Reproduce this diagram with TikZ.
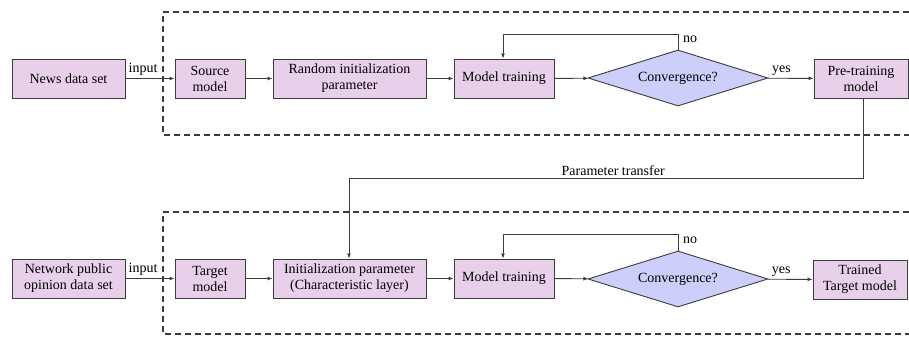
\documentclass[tikz,border=0pt]{standalone}
\usepackage{fontspec}
\setmainfont{Liberation Serif}
\usetikzlibrary{shapes.geometric,arrows.meta}
\definecolor{boxfill}{RGB}{233,208,234}
\definecolor{decfill}{RGB}{205,206,250}
\definecolor{edge}{RGB}{60,60,60}
\begin{document}
\begin{tikzpicture}[x=1pt,y=-1pt,
  font=\fontsize{14}{16}\selectfont,
  stepbox/.style={draw=edge,line width=0.9pt,fill=boxfill,rectangle,inner sep=1pt,
    minimum height=39pt,align=center},
  decision/.style={draw=edge,line width=0.9pt,fill=decfill,diamond,aspect=3.2,inner sep=0pt,
    minimum width=180pt,minimum height=56pt},
  flow/.style={draw=edge,line width=0.9pt,-{Latex[length=5pt,width=4pt]}},
  frame/.style={draw=edge,line width=1.2pt,dash pattern=on 6pt off 4pt}]
\useasboundingbox (0,0) rectangle (909,337);

% dashed stage frames
\draw[frame] (909,12) -- (163,12) -- (163,135) -- (909,135);
\draw[frame] (909,212) -- (163,212) -- (163,334) -- (909,334);

% pre-training stage
\node[stepbox,minimum width=113pt] (news) at (68.5,78.5) {News data set};
\node[stepbox,minimum width=70pt] (src) at (210,78.5) {Source\\model};
\node[stepbox,minimum width=153pt] (rand) at (349.5,78.5) {Random initialization\\parameter};
\node[stepbox,minimum width=100pt] (train1) at (504,78.5) {Model training};
\node[decision] (conv1) at (678,78) {Convergence?};
\node[stepbox,minimum width=94pt] (pre) at (861,78.5) {Pre-training\\model};

% fine-tuning stage
\node[stepbox,minimum width=113pt] (news2) at (68.5,278.5) {Network public\\opinion data set};
\node[stepbox,minimum width=70pt] (tgt) at (210,278.5) {Target\\model};
\node[stepbox,minimum width=153pt] (init) at (349.5,278.5) {Initialization parameter\\(Characteristic layer)};
\node[stepbox,minimum width=100pt] (train2) at (504,278.5) {Model training};
\node[decision] (conv2) at (678,279) {Convergence?};
\node[stepbox,minimum width=94pt] (done) at (860,279.5) {Trained\\Target model};

% top connectors
\draw[flow] (news) -- node[pos=0.36,above=-1pt] {input} (src);
\draw[flow] (src) -- (rand);
\draw[flow] (rand) -- (train1);
\draw[flow] (train1) -- (conv1);
\draw[flow] (conv1) -- node[pos=0.3,above=-1pt] {yes} (pre);
\draw[flow] (conv1.north) -- (678,34) -- (503,34) -- (train1.north -| 503,0);
\node[anchor=west,inner sep=0pt] (no1) at (683,39) {no};

% bottom connectors
\draw[flow] (news2) -- node[pos=0.36,above=-1pt] {input} (tgt);
\draw[flow] (tgt) -- (init);
\draw[flow] (init) -- (train2);
\draw[flow] (train2) -- (conv2);
\draw[flow] (conv2) -- node[pos=0.3,above=-1pt] {yes} (done);
\draw[flow] (conv2.north) -- (678,234) -- (503,234) -- (train2.north -| 503,0);
\node[anchor=west,inner sep=0pt] (no2) at (683,240) {no};

% parameter transfer
\draw[flow] (pre.south -| 863,0) -- (863,178) -- node[pos=0.486,above=-1pt] {Parameter transfer} (349,178) -- (init.north -| 349,0);
\end{tikzpicture}
\end{document}
